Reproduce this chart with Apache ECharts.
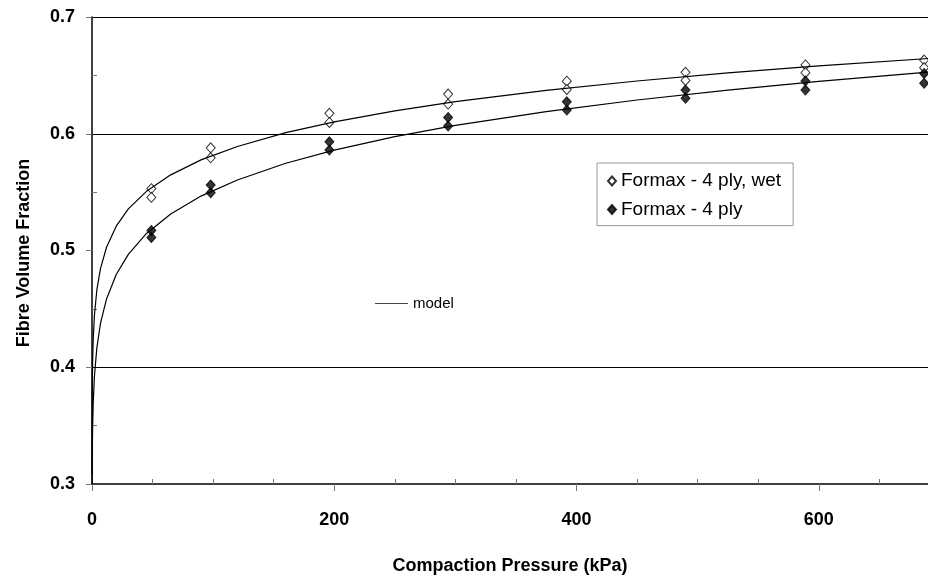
<!DOCTYPE html>
<html>
<head>
<meta charset="utf-8">
<script src="https://cdn.jsdelivr.net/npm/echarts@6/dist/echarts.min.js"></script>
<style>
  html, body { margin: 0; padding: 0; background: #fff; overflow: hidden; }
  /* the plot runs past the right edge of the window, so the canvas is wider than the view */
  #chart { width: 1061px; height: 578px; }
</style>
</head>
<body>
<div id="chart"></div>
<script>
// Compaction pressure (kPa) of each measurement
const pressures = [49, 98, 196, 294, 392, 490, 589, 687];
// Fibre volume fraction, wet laminate (two repeats per pressure)
const wetRunA = [0.553, 0.588, 0.6175, 0.634, 0.645, 0.6526, 0.6589, 0.6631];
const wetRunB = [0.5455, 0.5794, 0.6097, 0.6254, 0.638, 0.6457, 0.6523, 0.6566];
// Fibre volume fraction, dry laminate (two repeats per pressure)
const dryRunA = [0.5172, 0.556, 0.5931, 0.614, 0.6274, 0.6374, 0.6451, 0.6517];
const dryRunB = [0.5112, 0.5494, 0.586, 0.6066, 0.6203, 0.6303, 0.6374, 0.6432];

// Model curves sampled along the pressure range
const modelPressure = [0.01, 0.05, 0.2, 0.5, 1, 2, 4, 7, 12, 20, 30, 45, 65, 90, 120, 160, 200, 250, 300, 375, 450, 525, 600, 700];
const modelWet = [0.3088, 0.3449, 0.3794, 0.4040, 0.4238, 0.4445, 0.4662, 0.4845, 0.5028, 0.5208, 0.5356, 0.5507, 0.5648, 0.5776, 0.5891, 0.6009, 0.6102, 0.6196, 0.6275, 0.6372, 0.6452, 0.6521, 0.6581, 0.6651];
const modelDry = [0.2471, 0.2843, 0.3209, 0.3476, 0.3692, 0.3922, 0.4166, 0.4375, 0.4585, 0.4794, 0.4967, 0.5146, 0.5313, 0.5466, 0.5604, 0.5747, 0.5860, 0.5975, 0.6071, 0.6190, 0.6289, 0.6374, 0.6449, 0.6536];

// Axis settings
const yTicks = [0.3, 0.4, 0.5, 0.6, 0.7];
const gridLevels = [0.4, 0.6, 0.7];

const FONT = "'Liberation Sans', Arial, sans-serif";

function pairs(xs, ys) { return xs.map((x, i) => [x, ys[i]]); }
function pairsTwice(xs, a, b) { return pairs(xs, a).concat(pairs(xs, b)); }

const chart = echarts.init(document.getElementById('chart'), null, { renderer: 'canvas' });

chart.setOption({
  animation: false,
  backgroundColor: '#fff',
  textStyle: { fontFamily: FONT },
  grid: { left: 92, top: 17, right: 0, bottom: 94, containLabel: false, outerBoundsMode: 'none' },
  xAxis: {
    type: 'value',
    min: 0, max: 800, interval: 200,
    axisLine: { show: true, onZero: false, lineStyle: { color: '#000', width: 1.5 } },
    axisTick: { show: true, length: 7, lineStyle: { color: '#777', width: 1 } },
    minorTick: { show: true, splitNumber: 4, length: -5, lineStyle: { color: '#777', width: 1 } },
    splitLine: { show: false },
    axisLabel: { fontSize: 18, fontWeight: 'bold', color: '#000', margin: 27, fontFamily: FONT }
  },
  yAxis: {
    type: 'value',
    min: yTicks[0], max: yTicks[yTicks.length - 1], interval: 0.1,
    axisLine: { show: true, onZero: false, lineStyle: { color: '#000', width: 1.5 } },
    axisTick: { show: true, length: 6, lineStyle: { color: '#777', width: 1 } },
    minorTick: { show: true, splitNumber: 2, length: -5, lineStyle: { color: '#777', width: 1 } },
    splitLine: { show: false },
    axisLabel: {
      fontSize: 18, fontWeight: 'bold', color: '#000', margin: 17, fontFamily: FONT,
      padding: [5, 0, 0, 0],
      formatter: v => v.toFixed(1)
    }
  },
  legend: [
    {
      data: ['Formax - 4 ply, wet', 'Formax - 4 ply'],
      orient: 'vertical',
      left: 597, top: 163,
      padding: [8, 12, 6, 10],
      itemWidth: 8, itemHeight: 9, itemGap: 8.6,
      icon: 'diamond',
      borderColor: '#999', borderWidth: 1,
      selectedMode: false,
      textStyle: { fontSize: 19, color: '#000', fontFamily: FONT, lineHeight: 20 }
    },
    {
      data: [{ name: 'model', icon: 'rect' }],
      left: 375, top: 296,
      padding: 0,
      itemWidth: 33, itemHeight: 1,
      selectedMode: false,
      itemStyle: { color: '#444' },
      textStyle: { fontSize: 15, color: '#000', fontFamily: FONT, lineHeight: 14 }
    }
  ],
  series: [
    {
      name: 'Formax - 4 ply, wet',
      type: 'scatter',
      symbol: 'diamond',
      symbolSize: [9, 10],
      itemStyle: { color: '#fff', borderColor: '#000', borderWidth: 1 },
      data: pairsTwice(pressures, wetRunA, wetRunB),
      z: 3,
      markLine: {
        silent: true,
        symbol: ['none', 'none'],
        label: { show: false },
        lineStyle: { color: '#000', width: 1.2, type: 'solid' },
        data: gridLevels.map(v => ({ yAxis: v }))
      }
    },
    {
      name: 'Formax - 4 ply',
      type: 'scatter',
      symbol: 'diamond',
      symbolSize: [9, 10],
      itemStyle: { color: '#000', borderColor: '#000', borderWidth: 1 },
      data: pairsTwice(pressures, dryRunA, dryRunB),
      z: 3
    },
    {
      name: 'model',
      type: 'line',
      symbol: 'none',
      showSymbol: false,
      clip: true,
      lineStyle: { color: '#000', width: 1.2 },
      itemStyle: { color: '#444' },
      data: pairs(modelPressure, modelWet),
      z: 4
    },
    {
      name: 'model',
      type: 'line',
      symbol: 'none',
      showSymbol: false,
      clip: true,
      lineStyle: { color: '#000', width: 1.2 },
      itemStyle: { color: '#444' },
      data: pairs(modelPressure, modelDry),
      z: 4
    }
  ],
  graphic: [
    {
      type: 'text',
      x: 510, y: 566,
      style: {
        text: 'Compaction Pressure (kPa)',
        font: "bold 18px " + FONT,
        fill: '#000',
        textAlign: 'center',
        textVerticalAlign: 'middle'
      }
    },
    {
      type: 'text',
      x: 24, y: 253,
      rotation: Math.PI / 2,
      style: {
        text: 'Fibre Volume Fraction',
        font: "bold 18px " + FONT,
        fill: '#000',
        textAlign: 'center',
        textVerticalAlign: 'middle'
      }
    }
  ]
});
</script>
</body>
</html>
